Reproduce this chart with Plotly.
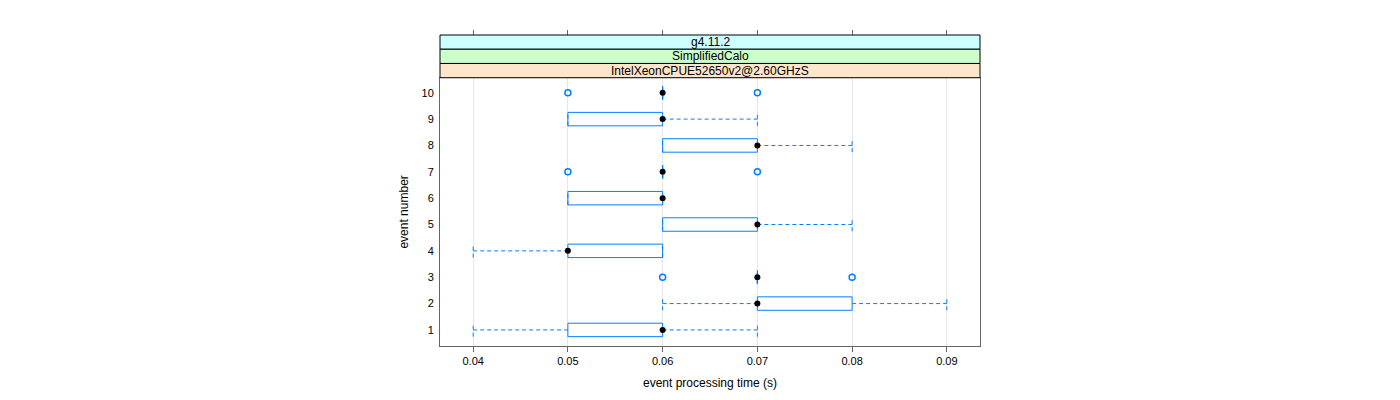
import plotly.graph_objects as go

# ---- data ----
events = [1, 2, 3, 4, 5, 6, 7, 8, 9, 10]
q1 = [0.05, 0.07, 0.07, 0.05, 0.06, 0.05, 0.06, 0.06, 0.05, 0.06]
med = [0.06, 0.07, 0.07, 0.05, 0.07, 0.06, 0.06, 0.07, 0.06, 0.06]
q3 = [0.06, 0.08, 0.07, 0.06, 0.07, 0.06, 0.06, 0.07, 0.06, 0.06]
wlo = [0.04, 0.06, 0.07, 0.04, 0.06, 0.05, 0.06, 0.06, 0.05, 0.06]
whi = [0.07, 0.09, 0.07, 0.06, 0.08, 0.06, 0.06, 0.08, 0.07, 0.06]
out_event = [3, 3, 7, 7, 10, 10]
out_value = [0.06, 0.08, 0.05, 0.07, 0.05, 0.07]
x_ticks = [0.04, 0.05, 0.06, 0.07, 0.08, 0.09]
strip_labels = ["g4.11.2", "SimplifiedCalo", "IntelXeonCPUE52650v2@2.60GHzS"]
strip_colors = ["#ccffff", "#ccffcc", "#ffe5cc"]

# ---- style ----
BLUE = "#0080ff"
HALF = 0.255  # half box height in y units
FONT = "Liberation Sans, Arial, sans-serif"

wx, wy, bx, by = [], [], [], []
for e, a, b, c, lo, hi in zip(events, q1, med, q3, wlo, whi):
    # whiskers
    wx += [lo, a, None, c, hi, None]
    wy += [e, e, None, e, e, None]
    # staples
    wx += [lo, lo, None, hi, hi, None]
    wy += [e - HALF, e + HALF, None, e - HALF, e + HALF, None]
    # box
    bx += [a, c, c, a, a, None]
    by += [e - HALF, e - HALF, e + HALF, e + HALF, e - HALF, None]

fig = go.Figure()
fig.add_trace(go.Scatter(x=wx, y=wy, mode="lines", hoverinfo="skip",
                         line=dict(color=BLUE, width=1, dash="4px,3px")))
fig.add_trace(go.Scatter(x=bx, y=by, mode="lines", hoverinfo="skip",
                         line=dict(color=BLUE, width=1)))
fig.add_trace(go.Scatter(x=out_value, y=out_event, mode="markers",
                         marker=dict(symbol="circle-open", size=6, color=BLUE,
                                     line=dict(width=1.5, color=BLUE))))
fig.add_trace(go.Scatter(x=med, y=events, mode="markers",
                         marker=dict(symbol="circle", size=6, color="black")))
# invisible trace to anchor the top tick axis
fig.add_trace(go.Scatter(x=[x_ticks[0]], y=[events[0]], xaxis="x2", mode="markers",
                         marker=dict(opacity=0), hoverinfo="skip"))

W, H = 1392, 392
L, T = 432, 27
plot_w, plot_h = 540, 313
dom_top = 270 / plot_h
band = (1 - dom_top) / 3

shapes = []
annotations = []
for i, (lab, col) in enumerate(zip(strip_labels, strip_colors)):
    y1 = 1 - i * band
    y0 = y1 - band
    shapes.append(dict(type="rect", xref="paper", yref="paper", x0=0, x1=1,
                       y0=y0, y1=y1, fillcolor=col,
                       line=dict(color="black", width=1), layer="above"))
    annotations.append(dict(text=lab, xref="paper", yref="paper", x=0.5,
                            y=(y0 + y1) / 2, showarrow=False,
                            font=dict(family=FONT, size=12, color="black"),
                            xanchor="center", yanchor="middle"))

fig.update_layout(
    width=W, height=H,
    margin=dict(l=L, r=W - L - plot_w, t=T, b=H - T - plot_h),
    paper_bgcolor="white", plot_bgcolor="white",
    showlegend=False,
    font=dict(family=FONT, size=11, color="black"),
    shapes=shapes, annotations=annotations,
    xaxis=dict(range=[0.0365, 0.0935], tickvals=x_ticks,
               ticktext=[f"{v:.2f}" for v in x_ticks],
               ticks="outside", ticklen=5, tickcolor="#666",
               showline=True, mirror=True, linecolor="#666", linewidth=1,
               showgrid=True, gridcolor="#e6e6e6", gridwidth=1, zeroline=False,
               title=dict(text="event processing time (s)",
                          font=dict(family=FONT, size=12), standoff=12),
               tickfont=dict(family=FONT, size=11)),
    xaxis2=dict(range=[0.0365, 0.0935], tickvals=x_ticks, overlaying="x",
                anchor="free", position=1, side="top",
                ticks="outside", ticklen=5, tickcolor="#666",
                showticklabels=False, showgrid=False, showline=False, zeroline=False),
    yaxis=dict(domain=[0, dom_top], range=[0.39, 10.57], tickvals=events,
               ticktext=[str(e) for e in events],
               ticks="outside", ticklen=3, tickcolor="rgba(0,0,0,0)",
               showline=True, mirror=True, linecolor="#666", linewidth=1,
               showgrid=False, zeroline=False,
               title=dict(text="event number",
                          font=dict(family=FONT, size=12), standoff=10),
               tickfont=dict(family=FONT, size=11)),
)

fig.write_html("out.html")
